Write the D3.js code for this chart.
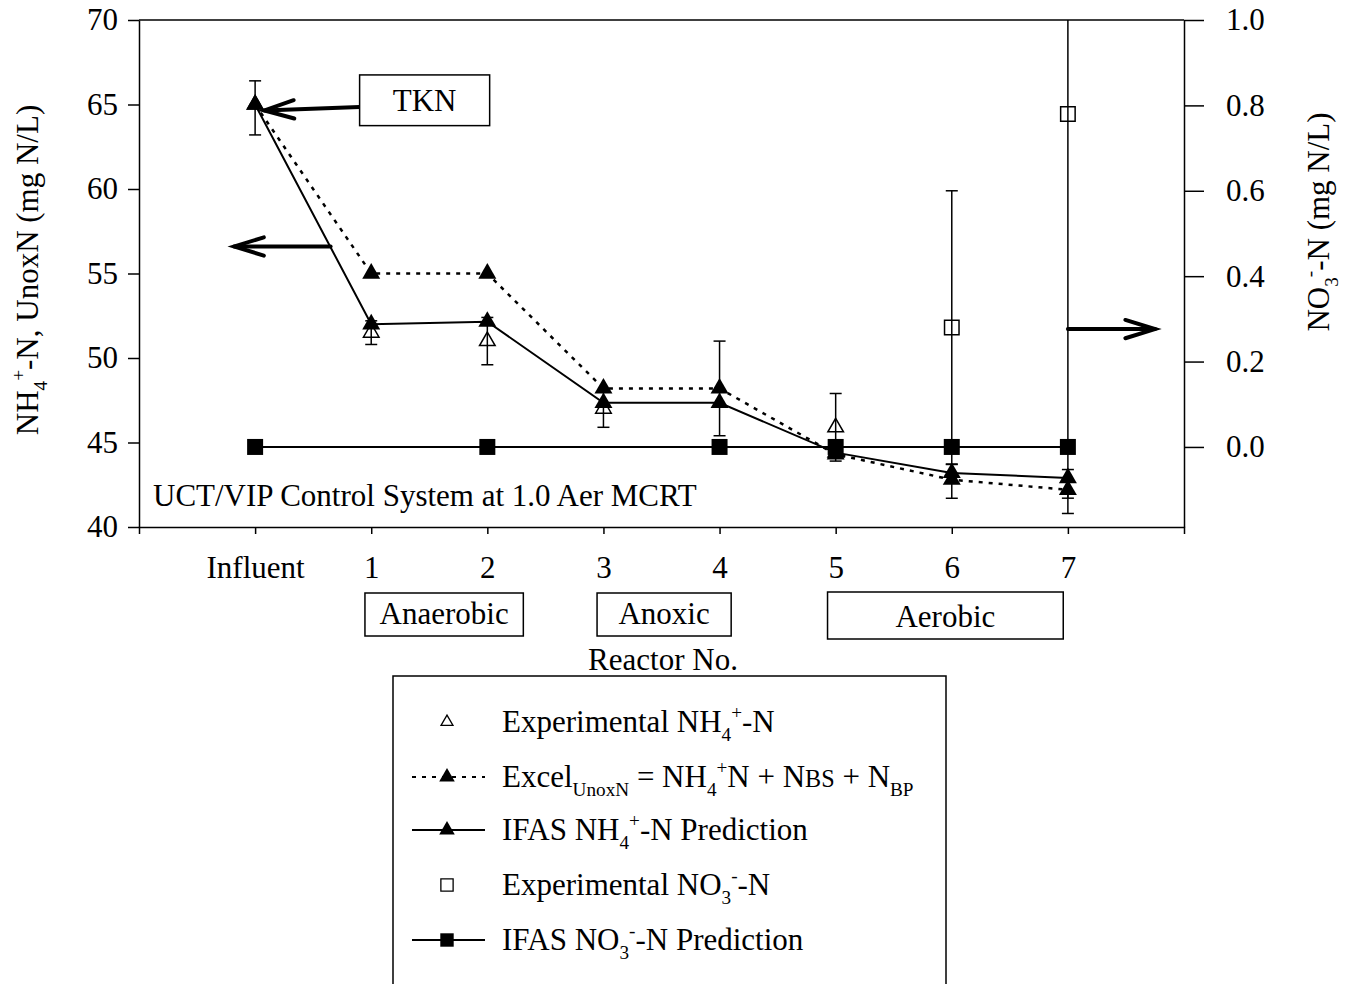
<!doctype html>
<html>

<head>
    <meta charset="utf-8">
    <title>UCT/VIP Control System</title>
    <script type="text/javascript" src="https://cdn.jsdelivr.net/npm/d3@7/dist/d3.min.js"></script>
    <style type="text/css">
        html,
        body {
            margin: 0;
            padding: 0;
            background: #fff;
        }

        #chart svg {
            display: block;
            font-family: "Liberation Serif", "Times New Roman", serif;
        }
    </style>

    <script type="text/javascript">
        // reactor categories (x = 0..7)
        var reactors = ["Influent", "1", "2", "3", "4", "5", "6", "7"]
        var reactorX = [0, 1, 2, 3, 4, 5, 6, 7]

        // left axis (mg N/L)
        var expNH4 = [64.8, 51.5, 51.0, 47.0, 48.2, 45.9, 42.7, 42.1]
        var expNH4Err = [1.6, 0.7, 1.4, 1.1, 2.8, 2.0, 1.0, 1.3]
        var expNH4Shown = [false, true, true, true, false, true, false, false]
        var excelUnoxN = [65.0, 55.0, 55.0, 48.2, 48.2, 44.3, 42.8, 42.2]
        var ifasNH4 = [65.0, 52.0, 52.15, 47.35, 47.35, 44.4, 43.2, 42.9]

        // right axis (mg N/L)
        var expNO3X = [6, 7]
        var expNO3 = [0.28, 0.78]
        var expNO3Err = [0.32, 0.9]
        var ifasNO3X = [0, 2, 4, 5, 6, 7]
        var ifasNO3 = [0, 0, 0, 0, 0, 0]

        var leftTicks = [40, 45, 50, 55, 60, 65, 70]
        var rightTicks = [0.0, 0.2, 0.4, 0.6, 0.8, 1.0]

        var zones = [
            { label: "Anaerobic", from: 0.946, to: 2.31 },
            { label: "Anoxic", from: 2.945, to: 4.1 },
            { label: "Aerobic", from: 4.93, to: 6.96 }
        ]

        // rich text helper: segments with optional sub / sup / small
        function richText(sel, parts, size) {
            var shift = 0
            parts.forEach(function (p) {
                var target = p.s === "sub" ? size * 0.3 : p.s === "sup" ? -size * 0.42 : 0
                var t = sel.append("tspan")
                    .text(p.t)
                    .attr("dy", target - shift)
                if (p.s === "sub" || p.s === "sup") t.attr("font-size", size * 0.62)
                if (p.s === "small") t.attr("font-size", size * 0.78)
                shift = target
            })
        }

        function draw() {
            var W = 1354, H = 984
            var FS = 31
            var svg = d3.select("#chart").append("svg")
                .attr("width", W)
                .attr("height", H)

            var x = d3.scaleLinear().domain([-1, 8]).range([139, 1184])
            var yL = d3.scaleLinear().domain([40, 70]).range([527, 20])
            var yR = d3.scaleLinear().domain([-0.1875, 1.0]).range([527, 20])

            svg.append("clipPath").attr("id", "plotclip")
                .append("rect")
                .attr("x", 139).attr("y", 20)
                .attr("width", 1184 - 139).attr("height", 527 - 20)

            // axes
            svg.append("g")
                .attr("transform", "translate(139,0)")
                .call(d3.axisLeft(yL).tickValues(leftTicks).tickSize(11).tickPadding(10).tickSizeOuter(0))
            svg.append("g")
                .attr("transform", "translate(1184,0)")
                .call(d3.axisRight(yR).tickValues(rightTicks).tickSize(20).tickPadding(22)
                    .tickFormat(d3.format(".1f")).tickSizeOuter(0))
            svg.append("g")
                .attr("transform", "translate(0,527)")
                .call(d3.axisBottom(x).tickValues(reactorX).tickSize(7).tickPadding(22)
                    .tickFormat(function (d) { return reactors[d] }).tickSizeOuter(7))

            svg.selectAll(".tick text")
                .attr("font-family", "Liberation Serif")
                .attr("font-size", FS)
                .attr("fill", "#000")
            svg.selectAll(".domain, .tick line")
                .attr("stroke", "#000")
                .attr("stroke-width", 1.5)

            // top frame
            svg.append("line")
                .attr("x1", 139).attr("x2", 1184)
                .attr("y1", yL(70)).attr("y2", yL(70))
                .attr("stroke", "#000").attr("stroke-width", 1.5)

            var plot = svg.append("g").attr("clip-path", "url(#plotclip)")

            // error bars
            function errBars(xs, vs, es, yScale) {
                xs.forEach(function (xv, i) {
                    var g = plot.append("g").attr("stroke", "#000").attr("stroke-width", 1.5)
                    var top = yScale(vs[i] + es[i]), bot = yScale(vs[i] - es[i]), cx = x(xv)
                    g.append("line").attr("x1", cx).attr("x2", cx).attr("y1", top).attr("y2", bot)
                    g.append("line").attr("x1", cx - 6).attr("x2", cx + 6).attr("y1", top).attr("y2", top)
                    g.append("line").attr("x1", cx - 6).attr("x2", cx + 6).attr("y1", bot).attr("y2", bot)
                })
            }
            errBars(reactorX, expNH4, expNH4Err, yL)
            errBars(expNO3X, expNO3, expNO3Err, yR)

            // lines
            plot.append("path")
                .datum(ifasNO3X.map(function (d, i) { return [x(d), yR(ifasNO3[i])] }))
                .attr("d", d3.line())
                .attr("fill", "none").attr("stroke", "#000").attr("stroke-width", 2)
            plot.append("path")
                .datum(reactorX.map(function (d, i) { return [x(d), yL(excelUnoxN[i])] }))
                .attr("d", d3.line())
                .attr("fill", "none").attr("stroke", "#000").attr("stroke-width", 2.5)
                .attr("stroke-dasharray", "4,6")
            plot.append("path")
                .datum(reactorX.map(function (d, i) { return [x(d), yL(ifasNH4[i])] }))
                .attr("d", d3.line())
                .attr("fill", "none").attr("stroke", "#000").attr("stroke-width", 2)

            var tri = d3.symbol().type(d3.symbolTriangle)
            var sq = d3.symbol().type(d3.symbolSquare)

            // markers
            plot.selectAll(".expnh4").data(reactorX.filter(function (d, i) { return expNH4Shown[i] }))
                .enter().append("path")
                .attr("d", tri.size(105)())
                .attr("transform", function (d) { return "translate(" + x(d) + "," + yL(expNH4[d]) + ")" })
                .attr("fill", "none").attr("stroke", "#000").attr("stroke-width", 1.5)
            plot.selectAll(".nd").data(expNO3X).enter().append("path")
                .attr("d", sq.size(210)())
                .attr("transform", function (d, i) { return "translate(" + x(d) + "," + yR(expNO3[i]) + ")" })
                .attr("fill", "none").attr("stroke", "#000").attr("stroke-width", 1.5)
            plot.selectAll(".ifno3").data(ifasNO3X).enter().append("path")
                .attr("d", sq.size(256)())
                .attr("transform", function (d, i) { return "translate(" + x(d) + "," + yR(ifasNO3[i]) + ")" })
                .attr("fill", "#000")
            plot.selectAll(".excel").data(reactorX).enter().append("path")
                .attr("d", tri.size(140)())
                .attr("transform", function (d, i) { return "translate(" + x(d) + "," + yL(excelUnoxN[i]) + ")" })
                .attr("fill", "#000")
            plot.selectAll(".ifnh4").data(reactorX).enter().append("path")
                .attr("d", tri.size(140)())
                .attr("transform", function (d, i) { return "translate(" + x(d) + "," + yL(ifasNH4[i]) + ")" })
                .attr("fill", "#000")

            // arrows
            function arrow(x1, y1, x2, y2) {
                var a = Math.atan2(y2 - y1, x2 - x1), L = 31, s = 0.3
                var g = svg.append("g").attr("stroke", "#000").attr("stroke-width", 4)
                    .attr("fill", "none").attr("stroke-linecap", "round")
                g.append("line").attr("x1", x1).attr("y1", y1).attr("x2", x2).attr("y2", y2)
                g.append("polyline").attr("points", [
                    [x2 - L * Math.cos(a - s), y2 - L * Math.sin(a - s)],
                    [x2, y2],
                    [x2 - L * Math.cos(a + s), y2 - L * Math.sin(a + s)]
                ].map(function (p) { return p.join(",") }).join(" "))
            }
            arrow(x(0.9), yL(64.85), x(0.08), yL(64.65))
            arrow(x(0.65), yL(56.6), x(-0.18), yL(56.6))
            arrow(x(7), yR(0.276), x(7.75), yR(0.276))

            // TKN box
            svg.append("rect")
                .attr("x", x(0.9)).attr("y", yL(66.75))
                .attr("width", x(2.02) - x(0.9)).attr("height", yL(63.75) - yL(66.75))
                .attr("fill", "#fff").attr("stroke", "#000").attr("stroke-width", 1.5)
            svg.append("text")
                .attr("x", (x(0.9) + x(2.02)) / 2).attr("y", 111)
                .attr("text-anchor", "middle").attr("font-size", FS)
                .text("TKN")

            svg.append("text")
                .attr("x", 153).attr("y", 506)
                .attr("font-size", FS)
                .text("UCT/VIP Control System at 1.0 Aer MCRT")

            // zone boxes
            zones.forEach(function (z, i) {
                var y0 = i === 2 ? 592 : 593, y1 = i === 2 ? 639 : 636
                svg.append("rect")
                    .attr("x", x(z.from)).attr("y", y0)
                    .attr("width", x(z.to) - x(z.from)).attr("height", y1 - y0)
                    .attr("fill", "none").attr("stroke", "#000").attr("stroke-width", 1.5)
                svg.append("text")
                    .attr("x", (x(z.from) + x(z.to)) / 2).attr("y", y1 - 12)
                    .attr("text-anchor", "middle").attr("font-size", FS)
                    .text(z.label)
            })

            svg.append("text")
                .attr("x", 663).attr("y", 670)
                .attr("text-anchor", "middle").attr("font-size", FS)
                .text("Reactor No.")

            // axis titles
            var lt = svg.append("text")
                .attr("transform", "translate(38,270) rotate(-90)")
                .attr("text-anchor", "middle").attr("font-size", FS)
            richText(lt, [{ t: "NH" }, { t: "4", s: "sub" }, { t: "+", s: "sup" }, { t: "-N, UnoxN (mg N/L)" }], FS)
            var rt = svg.append("text")
                .attr("transform", "translate(1329,222) rotate(-90)")
                .attr("text-anchor", "middle").attr("font-size", FS)
            richText(rt, [{ t: "NO" }, { t: "3", s: "sub" }, { t: "-", s: "sup" }, { t: "-N (mg N/L)" }], FS)

            // legend
            svg.append("rect")
                .attr("x", 393).attr("y", 676).attr("width", 553).attr("height", 340)
                .attr("fill", "none").attr("stroke", "#000").attr("stroke-width", 1.5)
            var legendRows = [
                { y: 722, line: null, sym: "otri", parts: [{ t: "Experimental NH" }, { t: "4", s: "sub" }, { t: "+", s: "sup" }, { t: "-N" }] },
                { y: 777, line: "4,6", sym: "tri", parts: [{ t: "Excel" }, { t: "UnoxN", s: "sub" }, { t: " = NH" }, { t: "4", s: "sub" }, { t: "+", s: "sup" }, { t: "N + N" }, { t: "BS", s: "small" }, { t: " + N" }, { t: "BP", s: "sub" }] },
                { y: 830, line: "none", sym: "tri", parts: [{ t: "IFAS NH" }, { t: "4", s: "sub" }, { t: "+", s: "sup" }, { t: "-N Prediction" }] },
                { y: 885, line: null, sym: "osq", parts: [{ t: "Experimental NO" }, { t: "3", s: "sub" }, { t: "-", s: "sup" }, { t: "-N" }] },
                { y: 940, line: "none", sym: "sq", parts: [{ t: "IFAS NO" }, { t: "3", s: "sub" }, { t: "-", s: "sup" }, { t: "-N Prediction" }] }
            ]
            legendRows.forEach(function (r) {
                if (r.line) {
                    svg.append("line")
                        .attr("x1", 412).attr("x2", 485).attr("y1", r.y).attr("y2", r.y)
                        .attr("stroke", "#000").attr("stroke-width", 2)
                        .attr("stroke-dasharray", r.line === "none" ? null : r.line)
                }
                var p = svg.append("path").attr("transform", "translate(447," + r.y + ")")
                if (r.sym === "otri") p.attr("d", tri.size(62)()).attr("fill", "none").attr("stroke", "#000").attr("stroke-width", 1.3)
                if (r.sym === "tri") p.attr("d", tri.size(105)()).attr("fill", "#000")
                if (r.sym === "osq") p.attr("d", sq.size(150)()).attr("fill", "none").attr("stroke", "#000").attr("stroke-width", 1.3)
                if (r.sym === "sq") p.attr("d", sq.size(180)()).attr("fill", "#000")
                var t = svg.append("text").attr("x", 502).attr("y", r.y + 10).attr("font-size", FS)
                richText(t, r.parts, FS)
            })
        }

        document.addEventListener("DOMContentLoaded", function (e) {
            draw()
        })
    </script>

</head>

<body>
    <div id="chart"></div>
</body>

</html>
